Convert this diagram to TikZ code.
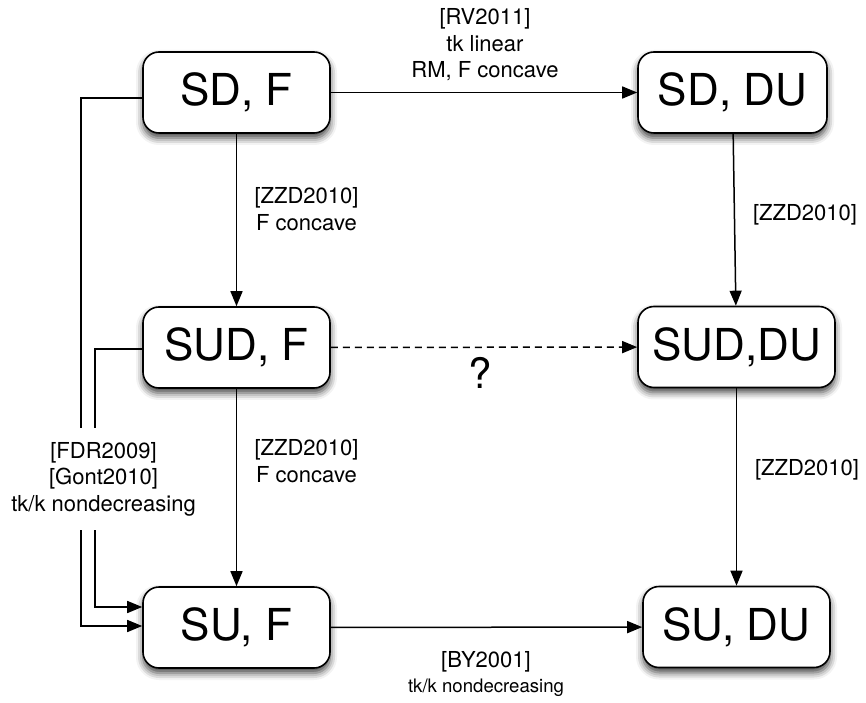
\documentclass[tikz,border=0pt]{standalone}
\usepackage{fontspec}
\setmainfont{TeX Gyre Heros}
\usetikzlibrary{arrows.meta,shadows.blur}
\begin{document}
\begin{tikzpicture}[x=1pt,y=1pt,
  state/.style={draw=black, line width=1.6pt, rounded corners=16pt, fill=white,
    minimum height=81pt, inner sep=0pt, font=\fontsize{44}{48}\selectfont,
    blur shadow={shadow xshift=0pt, shadow yshift=-5pt, shadow blur radius=7pt, shadow opacity=75}},
  lab/.style={align=center, font=\fontsize{22}{26.5}\selectfont, inner sep=0pt},
  conn/.style={line width=1.5pt, -{Triangle[length=15pt,width=12pt]}},
  plain/.style={line width=1.5pt}
]
\useasboundingbox (0,0) rectangle (866,702);

\node[state, minimum width=187pt] (SDF)   at (236.5,609.5) {SD, F};
\node[state, minimum width=189pt] (SDDU)  at (732.5,609.5) {SD, DU};
\node[state, minimum width=187pt] (SUDF)  at (236.5,354.5) {SUD, F};
\node[state, minimum width=197pt] (SUDDU) at (736.5,355)   {SUD,DU};
\node[state, minimum width=187pt] (SUF)   at (236.5,74.5)  {SU, F};
\node[state, minimum width=187pt] (SUDU)  at (736.5,75)    {SU, DU};

% labels
\node[lab] (lRV)   at (485,657) {[RV2011]\\tk linear\\RM, F concave};
\node[lab] (lZ1)   at (306.5,493) {[ZZD2010]\\F concave};
\node[lab] (lZ2)   at (306.5,241) {[ZZD2010]\\F concave};
\node[lab] (lZ3)   at (805,487) {[ZZD2010]};
\node[lab] (lZ4)   at (807,232) {[ZZD2010]};
\node[inner sep=0pt, font=\fontsize{42}{46}\selectfont] (lQ) at (480,329) {?};
\node[lab] (lBY)   at (486,40) {[BY2001]};
\node[inner sep=0pt, font=\fontsize{18.6}{22}\selectfont] (lBY2) at (486,14) {tk/k nondecreasing};
\node[lab] (lFDR)  at (103.5,223) {{[FDR2009]}\\{}{[Gont2010]}\\tk/k nondecreasing};

% gap coordinates for the left connectors
\coordinate (gapTop) at (0,274);
\coordinate (gapBot) at (0,172);

% connectors
\draw[conn] (SDF) -- (SDDU);
\draw[conn] (SDF) -- (SUDF);
\draw[conn] (SDDU) -- (SUDDU);
\draw[conn, dash pattern=on 7pt off 5pt] (SUDF) -- (SUDDU);
\draw[conn] (SUDF) -- (SUF);
\draw[conn] (SUDDU) -- (SUDU);
\draw[conn] (SUF) -- (SUDU);

% outer left connector SD,F -> SU,F
\draw[plain] ([yshift=-5.5pt]SDF.west) -| (81,0 |- gapTop);
\draw[conn] (81,0 |- gapBot) |- ([yshift=1.5pt]SUF.west);
% inner left connector SUD,F -> SU,F
\draw[plain] ([yshift=-1.5pt]SUDF.west) -| (95,0 |- gapTop);
\draw[conn] (95,0 |- gapBot) |- ([yshift=20.5pt]SUF.west);
\end{tikzpicture}
\end{document}
